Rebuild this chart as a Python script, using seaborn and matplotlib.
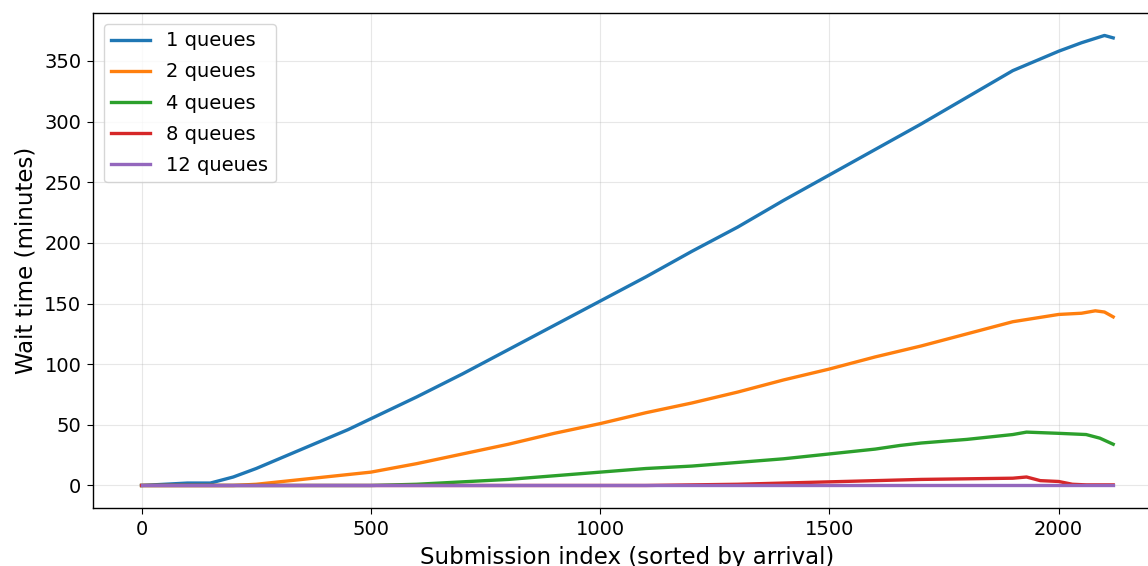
import matplotlib

matplotlib.use("Agg")
import matplotlib.pyplot as plt
import pandas as pd
import seaborn as sns

# Wait time (minutes) per submission index
q1_idx = [0, 50, 100, 150, 200, 250, 300, 350, 400, 450, 500, 600, 700, 800, 900,
          1000, 1100, 1200, 1300, 1400, 1500, 1600, 1700, 1800, 1900, 1950, 2000,
          2050, 2100, 2119]
q1_wait = [0, 1, 2, 2, 7, 14, 22, 30, 38, 46, 55, 73, 92, 112, 132,
           152, 172, 193, 213, 235, 256, 277, 298, 320, 342, 350, 358,
           365, 371, 369]

q2_idx = [0, 200, 250, 300, 350, 400, 450, 500, 600, 700, 800, 900, 1000, 1100,
          1200, 1300, 1400, 1500, 1600, 1700, 1800, 1900, 1950, 2000, 2050, 2080,
          2100, 2119]
q2_wait = [0, 0, 1, 3, 5, 7, 9, 11, 18, 26, 34, 43, 51, 60,
           68, 77, 87, 96, 106, 115, 125, 135, 138, 141, 142, 144,
           143, 139]

q4_idx = [0, 500, 600, 700, 800, 900, 1000, 1100, 1200, 1300, 1400, 1500, 1600,
          1654, 1700, 1800, 1900, 1930, 2000, 2060, 2090, 2119]
q4_wait = [0, 0, 1, 3, 5, 8, 11, 14, 16, 19, 22, 26, 30,
           33, 35, 38, 42, 44, 43, 42, 39, 34]

q8_idx = [0, 1100, 1200, 1300, 1400, 1500, 1600, 1700, 1800, 1900, 1930, 1960,
          2000, 2030, 2060, 2119]
q8_wait = [0, 0, 0.5, 1, 2, 3, 4, 5, 5.5, 6, 7, 4, 3.3, 1, 0.5, 0.5]

q12_idx = [0, 500, 1000, 1500, 2000, 2119]
q12_wait = [0, 0, 0, 0, 0, 0]

series = {
    "1 queues": (q1_idx, q1_wait),
    "2 queues": (q2_idx, q2_wait),
    "4 queues": (q4_idx, q4_wait),
    "8 queues": (q8_idx, q8_wait),
    "12 queues": (q12_idx, q12_wait),
}

frames = [pd.DataFrame({"idx": x, "wait": y, "label": name})
          for name, (x, y) in series.items()]
df = pd.concat(frames, ignore_index=True)

plt.rcParams.update({
    "xtick.major.size": 4.2,
    "ytick.major.size": 4.2,
    "xtick.major.pad": 4.2,
    "ytick.major.pad": 4.2,
    "axes.linewidth": 1.0,
})

fig = plt.figure(figsize=(11.48, 5.66), dpi=100)
ax = fig.add_axes([0.081, 0.1025, 0.931, 0.8746])

sns.lineplot(data=df, x="idx", y="wait", hue="label", hue_order=list(series),
             palette=sns.color_palette("tab10", 5), estimator=None, lw=2.4,
             sort=False, ax=ax)

ax.grid(True, alpha=0.3)
ax.set_xlabel("Submission index (sorted by arrival)", fontsize=16.5, labelpad=5.5)
ax.set_ylabel("Wait time (minutes)", fontsize=16.5, labelpad=4.8)
ax.tick_params(labelsize=14)
ax.legend(loc="upper left", fontsize=14, title=None, labelspacing=0.62,
          borderaxespad=0.55)

fig.savefig("out.png", dpi=100)
